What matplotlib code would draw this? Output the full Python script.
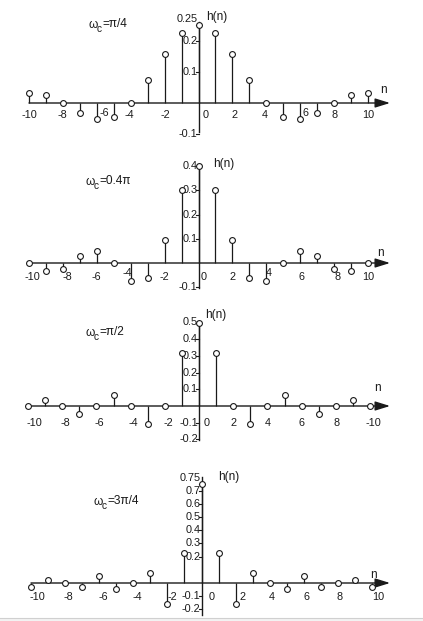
import matplotlib
matplotlib.use("Agg")
import matplotlib.pyplot as plt

plt.rcParams['font.family'] = ['Liberation Sans', 'DejaVu Sans']

# ---------------- data ----------------
n = [-10, -9, -8, -7, -6, -5, -4, -3, -2, -1, 0, 1, 2, 3, 4, 5, 6, 7, 8, 9, 10]

h_pi4 = [0.032, 0.025, 0.0, -0.032, -0.053, -0.045, 0.0, 0.075, 0.159, 0.225, 0.25,
         0.225, 0.159, 0.075, 0.0, -0.045, -0.053, -0.032, 0.0, 0.025, 0.032]
h_04pi = [0.0, -0.034, -0.023, 0.027, 0.050, 0.0, -0.076, -0.062, 0.094, 0.303, 0.40,
          0.303, 0.094, -0.062, -0.076, 0.0, 0.050, 0.027, -0.023, -0.034, 0.0]
h_pi2 = [0.0, 0.035, 0.0, -0.045, 0.0, 0.064, 0.0, -0.106, 0.0, 0.318, 0.50,
         0.318, 0.0, -0.106, 0.0, 0.064, 0.0, -0.045, 0.0, 0.035, 0.0]
h_3pi4 = [-0.032, 0.025, 0.0, -0.032, 0.053, -0.045, 0.0, 0.075, -0.159, 0.225, 0.75,
          0.225, -0.159, 0.075, 0.0, -0.045, 0.053, -0.032, 0.0, 0.025, -0.032]

cutoff_labels = ['=π/4', '=0.4π', '=π/2', '=3π/4']

xlabels_1 = ['-10', '-8', '-6', '-4', '-2', '0', '2', '4', '6', '8', '10']
xlabels_2 = ['-10', '-8', '-6', '-4', '-2', '0', '2', '4', '6', '8', '10']
xlabels_3 = ['-10', '-8', '-6', '-4', '-2', '0', '2', '4', '6', '8', '-10']
xlabels_4 = ['-10', '-8', '-6', '-4', '-2', '0', '2', '4', '6', '8', '10']

yticks_1 = [0.25, 0.2, 0.1, -0.1]
yticks_2 = [0.4, 0.3, 0.2, 0.1, -0.1]
yticks_3 = [0.5, 0.4, 0.3, 0.2, 0.1, -0.1, -0.2]
yticks_4 = [0.75, 0.7, 0.6, 0.5, 0.4, 0.3, 0.2, -0.1, -0.2]
ytick_labels_1 = ['0.25', '0.2', '0.1', '-0.1']
ytick_labels_2 = ['0.4', '0.3', '0.2', '0.1', '-0.1']
ytick_labels_3 = ['0.5', '0.4', '0.3', '0.2', '0.1', '-0.1', '-0.2']
ytick_labels_4 = ['0.75', '0.7', '0.6', '0.5', '0.4', '0.3', '0.2', '-0.1', '-0.2']

# ---------------- layout (pixels) ----------------
W, H = 423, 621
panels = [
    dict(h=h_pi4, cut=cutoff_labels[0], xl=xlabels_1, yt=yticks_1, ytl=ytick_labels_1,
         x10=29, sp=16.95, y0=103, ppu=310, ytop=0.262, ybot=-0.095, toplift=7,
         xlpos=[-10, -8.05, -5.58, -4.1, -1.98, 0.44, 2.1, 3.9, 6.3, 8.0, 10.0],
         xldy=[12, 12, 10, 12, 12, 12, 12, 12, 10, 12, 12],
         hn=(206, 17), wc=(88, 24), nlab=(383, 90)),
    dict(h=h_04pi, cut=cutoff_labels[1], xl=xlabels_2, yt=yticks_2, ytl=ytick_labels_2,
         x10=29, sp=16.95, y0=263, ppu=242, ytop=0.41, ybot=-0.104, toplift=0,
         xlpos=[-9.8, -7.75, -6.0, -4.2, -2.0, 0.3, 2.0, 4.15, 6.1, 8.2, 10.0],
         xldy=[14, 14, 14, 10, 14, 14, 14, 10, 14, 14, 14],
         hn=(213, 164), wc=(85, 181), nlab=(380, 253)),
    dict(h=h_pi2, cut=cutoff_labels[2], xl=xlabels_3, yt=yticks_3, ytl=ytick_labels_3,
         x10=28, sp=17.1, y0=406, ppu=167, ytop=0.505, ybot=-0.205, toplift=0,
         xlpos=[-9.6, -7.8, -5.8, -3.85, -1.8, 0.47, 2.0, 4.04, 6.0, 8.07, 10.2],
         xldy=[17] * 11,
         hn=(205, 315), wc=(85, 332), nlab=(377, 388)),
    dict(h=h_3pi4, cut=cutoff_labels[3], xl=xlabels_4, yt=yticks_4, ytl=ytick_labels_4,
         x10=31, sp=17.05, y0=583, ppu=132, ytop=0.80, ybot=-0.245, toplift=6,
         xlpos=[-9.65, -7.83, -5.78, -3.78, -1.73, 0.62, 2.38, 4.13, 6.13, 8.12, 10.35],
         xldy=[14] * 11,
         hn=(218, 477), wc=(93, 501), nlab=(373, 575)),
]

fig = plt.figure(figsize=(W / 100, H / 100), dpi=100)
fig.patch.set_facecolor('white')

ink = '#1a1a1a'
fs = 7.8
fs_big = 8.6


def ftxt(x, y, s, **kw):
    return fig.text(x / W, 1 - y / H, s, color=ink, **kw)


for p in panels:
    ax = fig.add_axes([0, 0, 1, 1])
    ax.set_axis_off()
    ax.patch.set_alpha(0)
    sp, x10, y0, ppu = p['sp'], p['x10'], p['y0'], p['ppu']
    ax.set_xlim(-10 - x10 / sp, -10 + (W - x10) / sp)
    ax.set_ylim((y0 - H) / ppu, y0 / ppu)

    # x axis with arrow
    tip = -10 + (390 - x10) / sp
    ax.annotate('', xy=(tip, 0), xytext=(-10, 0),
                arrowprops=dict(arrowstyle='-|>,head_length=0.9,head_width=0.28',
                                color=ink, lw=1.0, shrinkA=0, shrinkB=0))
    # y axis
    ax.plot([0, 0], [p['ybot'], p['ytop']], color=ink, lw=1.0)

    # stems
    ax.vlines(n, 0, p['h'], color=ink, lw=0.9)
    ax.plot(n, p['h'], 'o', ms=4.2, mfc='white', mec=ink, mew=0.8, zorder=5)

    # y ticks and labels
    for i, (v, lab) in enumerate(zip(p['yt'], p['ytl'])):
        ax.plot([-3 / sp, 0], [v, v], color=ink, lw=0.8)
        lift = p['toplift'] if i == 0 else 0
        ax.annotate(lab, xy=(0, v), xytext=(-1, lift), textcoords='offset pixels',
                    ha='right', va='center', fontsize=fs, color=ink)

    # x tick labels
    for xp, lab, dy in zip(p['xlpos'], p['xl'], p['xldy']):
        ax.annotate(lab, xy=(xp, 0), xytext=(0, -dy), textcoords='offset pixels',
                    ha='center', va='center', fontsize=fs, color=ink)

    ftxt(p['hn'][0], p['hn'][1], 'h(n)', ha='left', va='center', fontsize=fs_big)
    ftxt(p['nlab'][0], p['nlab'][1], 'n', ha='center', va='center', fontsize=fs_big)

    # omega_c label built from three pieces
    wx, wy = p['wc']
    ftxt(wx, wy + 1, 'ω', ha='left', va='center', fontsize=fs_big)
    ftxt(wx + 9, wy + 5, 'c', ha='left', va='center', fontsize=fs - 0.5)
    ftxt(wx + 14, wy, p['cut'], ha='left', va='center', fontsize=fs_big)

# bottom light band
fig.patches.append(plt.Rectangle((0, 0), 1, 3.5 / H, transform=fig.transFigure,
                                 facecolor='#f2f2f2', edgecolor='none'))
fig.lines.append(plt.Line2D([0, 1], [3.5 / H, 3.5 / H], transform=fig.transFigure,
                            color='#d0d0d0', lw=0.8))

fig.savefig('out.png', dpi=100)
